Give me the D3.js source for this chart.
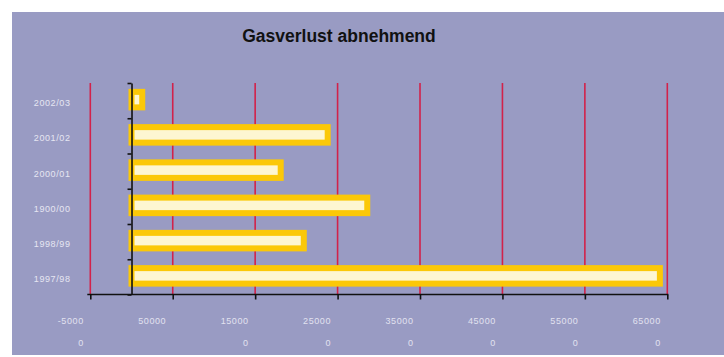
<!DOCTYPE html>
<html>
<head>
<meta charset="utf-8">
<script src="https://cdn.jsdelivr.net/npm/d3@7"></script>
<style>
  html, body { margin: 0; padding: 0; background: #ffffff; }
  svg { display: block; }
</style>
</head>
<body>
<svg id="chart" width="724" height="357"></svg>
<script>
// Gas loss per season, in m³
const categories = ["2002/03", "2001/02", "2000/01", "1900/00", "1998/99", "1997/98"];
const values = [13000, 238000, 181000, 286000, 209000, 641000];
const xTicks = [-50000, 50000, 150000, 250000, 350000, 450000, 550000, 650000];
const title = "Gasverlust abnehmend";

const svg = d3.select("#chart");
const W = 724, H = 357;

// panel background
svg.append("rect")
  .attr("x", 12).attr("y", 12)
  .attr("width", W - 12).attr("height", H - 14)
  .attr("fill", "#999bc3");

const plotTop = 83, plotBottom = 294.5;

const x = d3.scaleLinear().domain([-50000, 650000]).range([90.3, 667.3]);
const y = d3.scaleBand().domain(categories).range([plotTop, plotBottom])
  .paddingInner(0.56).paddingOuter(0.28);
const yIdx = d3.scaleLinear().domain([0, categories.length]).range([plotTop, plotBottom]);

// title
svg.append("text")
  .attr("x", 339).attr("y", 42)
  .attr("text-anchor", "middle")
  .attr("font-family", "'Liberation Sans', Arial, sans-serif")
  .attr("font-weight", "bold")
  .attr("font-size", "17.5px")
  .attr("fill", "#111")
  .text(title);

// vertical gridlines
svg.append("g")
  .selectAll("line")
  .data(xTicks)
  .join("line")
  .attr("x1", d => x(d)).attr("x2", d => x(d))
  .attr("y1", plotTop).attr("y2", plotBottom)
  .attr("stroke", "#d2224a")
  .attr("stroke-width", 1.6);

// bars
svg.append("g")
  .selectAll("rect")
  .data(categories.map((c, i) => ({ c, v: values[i] })))
  .join("rect")
  .attr("x", x(0))
  .attr("y", d => y(d.c) - 1)
  .attr("width", d => x(d.v) - x(0))
  .attr("height", y.bandwidth())
  .attr("fill", "#fdf6d2")
  .attr("stroke", "#fbc808")
  .attr("stroke-width", 6);

const labelFont = "'Liberation Sans', Arial, sans-serif";

// x axis
const xAxis = svg.append("g")
  .attr("transform", `translate(0,${plotBottom})`)
  .call(d3.axisBottom(x).tickValues(xTicks).tickSize(5).tickSizeOuter(0)
    .tickFormat(d => String(d)));
xAxis.select(".domain").attr("stroke", "#111").attr("stroke-width", 1.6)
  .attr("d", `M${x(-50000) - 3},0H${x(650000) + 1}`);
xAxis.selectAll(".tick line").attr("stroke", "#111").attr("stroke-width", 1.6);
xAxis.selectAll(".tick text").each(function (d) {
  const s = String(d);
  const t = d3.select(this)
    .attr("x", -7).attr("y", 0).attr("dy", null)
    .attr("text-anchor", "end")
    .attr("font-family", labelFont)
    .attr("font-size", "9px")
    .attr("letter-spacing", "0.6px")
    .attr("fill", "#e2e2f0")
    .text(null);
  t.append("tspan").attr("x", -7).attr("y", 29).text(s.slice(0, 5));
  if (s.length > 5) t.append("tspan").attr("x", -7).attr("y", 51).text(s.slice(5));
});

// y axis: boundary ticks
const yTicksG = svg.append("g")
  .attr("transform", `translate(${x(0)},0)`)
  .call(d3.axisLeft(yIdx).ticks(categories.length).tickSize(4).tickSizeOuter(0).tickFormat(""));
yTicksG.select(".domain").attr("stroke", "#111").attr("stroke-width", 1.6);
yTicksG.selectAll(".tick line").attr("stroke", "#111").attr("stroke-width", 1.6);

// y axis: category labels
const yLab = svg.append("g")
  .attr("transform", `translate(${x(0)},2.5)`)
  .call(d3.axisLeft(y).tickSize(0).tickPadding(61));
yLab.select(".domain").remove();
yLab.selectAll(".tick text")
  .attr("font-family", labelFont)
  .attr("font-size", "9px")
  .attr("letter-spacing", "0.6px")
  .attr("fill", "#e6e6f2");
</script>
</body>
</html>
